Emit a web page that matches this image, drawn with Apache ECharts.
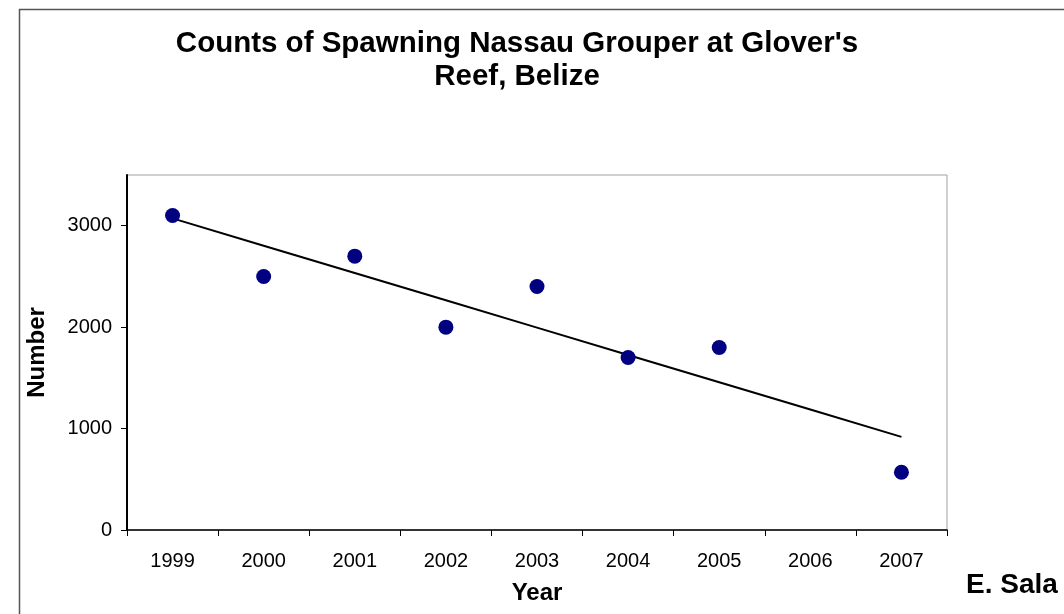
<!DOCTYPE html>
<html>
<head>
<meta charset="utf-8">
<script src="https://cdn.jsdelivr.net/npm/echarts@6/dist/echarts.min.js"></script>
<style>
  html, body { margin: 0; padding: 0; background: #fff; }
  #chart { width: 1064px; height: 614px; }
</style>
</head>
<body>
<div id="chart"></div>
<script>
// data
var years = ['1999', '2000', '2001', '2002', '2003', '2004', '2005', '2006', '2007'];
var counts = [3100, 2500, 2700, 2000, 2400, 1700, 1800, null, 570];
var yTicks = [0, 1000, 2000, 3000];

// least squares trend over the years that have a count
function trend(vals) {
  var xs = [], ys = [];
  for (var i = 0; i < vals.length; i++) {
    if (vals[i] != null) { xs.push(i); ys.push(vals[i]); }
  }
  var n = xs.length, mx = 0, my = 0;
  for (var i = 0; i < n; i++) { mx += xs[i]; my += ys[i]; }
  mx /= n; my /= n;
  var sxx = 0, sxy = 0;
  for (var i = 0; i < n; i++) {
    sxx += (xs[i] - mx) * (xs[i] - mx);
    sxy += (xs[i] - mx) * (ys[i] - my);
  }
  var b = sxy / sxx, a = my - b * mx;
  var out = [];
  for (var i = 0; i < vals.length; i++) out.push(a + b * i);
  return out;
}
var trendLine = trend(counts);

var font = 'Liberation Sans, Arial, sans-serif';
var myChart = echarts.init(document.getElementById('chart'));
myChart.setOption({
  animation: false,
  backgroundColor: '#fff',
  title: {
    text: "Counts of Spawning Nassau Grouper at Glover's\nReef, Belize",
    left: 512,
    top: 22,
    textAlign: 'center',
    textStyle: { fontFamily: font, fontWeight: 'bold', fontSize: 29.5, lineHeight: 33, color: '#000' }
  },
  grid: {
    left: 127, top: 175, right: 117, bottom: 84,
    show: true, borderColor: '#a0a0a0', borderWidth: 1, backgroundColor: '#fff'
  },
  graphic: [
    {
      type: 'rect', z: -1, silent: true,
      shape: { x: 19.5, y: 9.5, width: 1100, height: 700 },
      style: { fill: null, stroke: '#555', lineWidth: 1.5 }
    },
    {
      type: 'text', left: 966, top: 571,
      style: { text: 'E. Sala', font: 'bold 28px ' + font, fill: '#000' }
    }
  ],
  xAxis: {
    type: 'category',
    data: years,
    boundaryGap: true,
    name: 'Year',
    nameLocation: 'middle',
    nameGap: 51,
    nameTextStyle: { fontFamily: font, fontWeight: 'bold', fontSize: 24, color: '#000' },
    axisLine: { lineStyle: { color: '#000', width: 1.5 } },
    axisTick: { show: true, length: 6, inside: false, alignWithLabel: false, lineStyle: { color: '#000' } },
    axisLabel: { fontFamily: font, fontSize: 20, color: '#000', margin: 21 },
    splitLine: { show: false }
  },
  yAxis: {
    type: 'value',
    min: 0,
    max: 3500,
    interval: 500,
    name: 'Number',
    nameLocation: 'middle',
    nameGap: 78,
    nameTextStyle: { fontFamily: font, fontWeight: 'bold', fontSize: 24, color: '#000' },
    axisLine: { show: true, lineStyle: { color: '#000', width: 2 } },
    axisTick: { show: true, length: 6, customValues: yTicks, lineStyle: { color: '#000' } },
    axisLabel: {
      fontFamily: font, fontSize: 20, color: '#000', margin: 15, customValues: yTicks,
      formatter: function (v) { return String(v); }
    },
    splitLine: { show: false }
  },
  series: [
    {
      type: 'line',
      data: trendLine,
      showSymbol: false,
      silent: true,
      lineStyle: { color: '#000', width: 2 },
      z: 2
    },
    {
      type: 'scatter',
      data: counts,
      symbol: 'circle',
      symbolSize: 15,
      itemStyle: { color: '#000080', opacity: 1 },
      z: 3
    }
  ]
});
</script>
</body>
</html>
